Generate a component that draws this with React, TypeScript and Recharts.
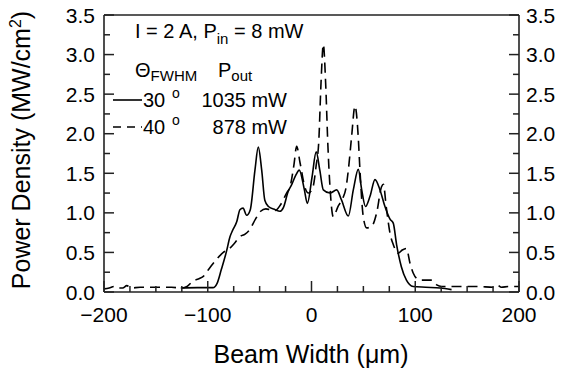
import { LineChart, Line, XAxis, YAxis } from 'recharts';

// Beam profile, I = 2 A, Pin = 8 mW
const xTicks = [-200, -175, -150, -125, -100, -75, -50, -25, 0, 25, 50, 75, 100, 125, 150, 175, 200];
const yTicks = [0, 0.25, 0.5, 0.75, 1, 1.25, 1.5, 1.75, 2, 2.25, 2.5, 2.75, 3, 3.25, 3.5];

// [beam width (um), power density (MW/cm2)]
const theta30: [number, number][] = [
  [-126, 0.05], [-110, 0.055], [-95, 0.055], [-91, 0.11], [-87, 0.28], [-82, 0.51], [-78.5, 0.7],
  [-76, 0.78], [-72, 0.89], [-69, 1.04], [-66, 1.06], [-62.5, 0.97], [-59, 1.04], [-54.5, 1.54],
  [-51.3, 1.83], [-48, 1.54], [-45, 1.16], [-41.5, 1.08], [-35, 1.04], [-30.5, 1.02], [-27, 1.07],
  [-22.5, 1.27], [-19, 1.36], [-15, 1.48], [-11.8, 1.54], [-7, 1.3], [-4, 1.12], [0.5, 1.45],
  [4.5, 1.77], [8, 1.54], [11.4, 1.29], [17.8, 1.25], [24.3, 1.29], [29, 1.16], [35.5, 0.96],
  [40.3, 1.29], [45.1, 1.55], [48.4, 1.29], [52, 1.08], [56.4, 1.21], [61.2, 1.42], [66, 1.29],
  [70.8, 1.08], [75.7, 0.92], [78.8, 0.87], [82, 0.6], [86.6, 0.32], [91.5, 0.15], [98, 0.07],
  [110, 0.06], [124, 0.05], [135, 0.03],
];

const theta40: [number, number][] = [
  [-200, 0.04], [-195, 0.05], [-190, 0.07], [-187, 0.05], [-182, 0.05], [-178, 0.08], [-174, 0.05],
  [-165, 0.06], [-150, 0.06], [-135, 0.06], [-126, 0.05], [-120, 0.07], [-114, 0.14], [-108, 0.17],
  [-104, 0.2], [-100, 0.27], [-96, 0.34], [-91, 0.42], [-85, 0.5], [-79, 0.55], [-74, 0.62],
  [-69, 0.7], [-64, 0.73], [-60, 0.78], [-54, 0.92], [-49, 1.02], [-44, 1.05], [-40, 1.04],
  [-35, 1.03], [-30, 1.1], [-24, 1.25], [-20.5, 1.34], [-17, 1.6], [-14.3, 1.84], [-11, 1.63],
  [-6.5, 1.33], [-3, 1.25], [1.5, 1.33], [4.5, 1.6], [7, 1.9], [9.2, 2.65], [11.4, 3.13],
  [13.6, 2.65], [15.8, 1.85], [17.8, 1.33], [21, 0.95], [25.5, 1.08], [30, 1.18], [33, 1.3],
  [35.5, 1.54], [38.7, 1.97], [41.9, 2.35], [45, 1.97], [46.7, 1.54], [49.9, 0.95], [53.2, 0.81],
  [58, 0.83], [62.8, 1.0], [67.5, 1.33], [69.3, 1.36], [72, 1.08], [75.7, 0.74], [78.8, 0.6],
  [83.5, 0.49], [87.5, 0.53], [91.5, 0.55], [95, 0.36], [98, 0.24], [101.5, 0.17], [106, 0.15],
  [116, 0.15], [120.7, 0.09], [125.5, 0.07], [140, 0.07], [160, 0.07], [175, 0.06], [179, 0.09],
  [183, 0.06], [190, 0.07], [200, 0.07],
];

const FONT = '"Liberation Sans", Arial, Helvetica, sans-serif';
const AXIS = '#222';

const toRows = (pts: [number, number][]) => pts.map(([x, y]) => ({ x, y }));

const fmtX = (v: number) => (v < 0 ? `\u2212${Math.abs(v)}` : `${v}`);
const isMajorY = (v: number) => Math.abs(v * 2 - Math.round(v * 2)) < 1e-6;

function BottomTick({ x, y, payload }: any) {
  const v = payload.value as number;
  const major = v % 100 === 0;
  return (
    <g>
      <line x1={x} y1={y} x2={x} y2={y - (major ? 11 : 6)} stroke={AXIS} strokeWidth={1.5} />
      {major && (
        <text x={x} y={y + 30} textAnchor="middle" fontSize={21} fontFamily={FONT} fill="#000">
          {fmtX(v)}
        </text>
      )}
    </g>
  );
}

function LeftTick({ x, y, payload }: any) {
  const v = payload.value as number;
  const major = isMajorY(v);
  return (
    <g>
      <line x1={x} y1={y} x2={x + (major ? 10 : 6)} y2={y} stroke={AXIS} strokeWidth={1.5} />
      {major && (
        <text x={x - 9} y={y} dy="0.36em" textAnchor="end" fontSize={21} fontFamily={FONT} fill="#000">
          {v.toFixed(1)}
        </text>
      )}
    </g>
  );
}

function RightTick({ x, y, payload }: any) {
  const v = payload.value as number;
  const major = isMajorY(v);
  return (
    <g>
      <line x1={x} y1={y} x2={x - (major ? 10 : 6)} y2={y} stroke={AXIS} strokeWidth={1.5} />
      {major && (
        <text x={x + 7} y={y} dy="0.36em" textAnchor="start" fontSize={21} fontFamily={FONT} fill="#000">
          {v.toFixed(1)}
        </text>
      )}
    </g>
  );
}

export default function App() {
  return (
    <div style={{ position: 'absolute', left: 0, top: 0, width: 561, height: 372, background: '#fff' }}>
      <LineChart width={561} height={372} margin={{ top: 14, right: 0, bottom: 0, left: 0 }}>
        <XAxis
          xAxisId="bottom"
          dataKey="x"
          type="number"
          domain={[-200, 200]}
          ticks={xTicks}
          interval={0}
          height={80}
          tickSize={0}
          tickMargin={0}
          tickLine={false}
          tick={<BottomTick />}
          axisLine={{ stroke: AXIS, strokeWidth: 1.6 }}
        />
        <XAxis
          xAxisId="top"
          dataKey="x"
          orientation="top"
          type="number"
          domain={[-200, 200]}
          height={1}
          tick={false}
          tickLine={false}
          axisLine={{ stroke: AXIS, strokeWidth: 1.6 }}
        />
        <YAxis
          yAxisId="left"
          type="number"
          domain={[0, 3.5]}
          ticks={yTicks}
          interval={0}
          width={104}
          tickSize={0}
          tickMargin={0}
          tickLine={false}
          tick={<LeftTick />}
          axisLine={{ stroke: AXIS, strokeWidth: 1.6 }}
        />
        <YAxis
          yAxisId="right"
          orientation="right"
          type="number"
          domain={[0, 3.5]}
          ticks={yTicks}
          interval={0}
          width={42}
          tickSize={0}
          tickMargin={0}
          tickLine={false}
          tick={<RightTick />}
          axisLine={{ stroke: AXIS, strokeWidth: 1.6 }}
        />
        <Line
          xAxisId="bottom"
          yAxisId="left"
          data={toRows(theta30)}
          dataKey="y"
          type="monotone"
          stroke="#000"
          strokeWidth={1.6}
          dot={false}
          isAnimationActive={false}
        />
        <Line
          xAxisId="top"
          yAxisId="right"
          data={toRows(theta40)}
          dataKey="y"
          type="monotone"
          stroke="#000"
          strokeWidth={1.6}
          strokeDasharray="10 6"
          dot={false}
          isAnimationActive={false}
        />
      </LineChart>

      <svg
        width={561}
        height={372}
        style={{ position: 'absolute', left: 0, top: 0, pointerEvents: 'none' }}
        fontFamily={FONT}
        fill="#000"
      >
        {/* axis titles */}
        <text x={311} y={363} textAnchor="middle" fontSize={25}>
          Beam Width (μm)
        </text>
        <text transform="translate(30,150) rotate(-90)" textAnchor="middle" fontSize={25}>
          Power Density (MW/cm<tspan dy={-9} fontSize={16}>2</tspan>
          <tspan dy={9}>)</tspan>
        </text>

        {/* in-plot legend */}
        <text x={135} y={38} fontSize={20}>
          I = 2 A, P<tspan dy={6} fontSize={15}>in</tspan>
          <tspan dy={-6}> = 8 mW</tspan>
        </text>
        <text x={135} y={77} fontSize={20}>
          Θ<tspan dy={4} fontSize={15}>FWHM</tspan>
        </text>
        <text x={218} y={77} fontSize={20}>
          P<tspan dy={4} fontSize={15}>out</tspan>
        </text>

        <line x1={113} y1={100} x2={142} y2={100} stroke="#000" strokeWidth={1.6} />
        <text x={143} y={107} fontSize={20}>30</text>
        <text x={172} y={98} fontSize={14}>o</text>
        <text x={287} y={107} fontSize={20} textAnchor="end">1035 mW</text>

        <line x1={113} y1={127} x2={142} y2={127} stroke="#000" strokeWidth={1.6} strokeDasharray="8 6" />
        <text x={143} y={134} fontSize={20}>40</text>
        <text x={172} y={125} fontSize={14}>o</text>
        <text x={287} y={134} fontSize={20} textAnchor="end">878 mW</text>
      </svg>
    </div>
  );
}
